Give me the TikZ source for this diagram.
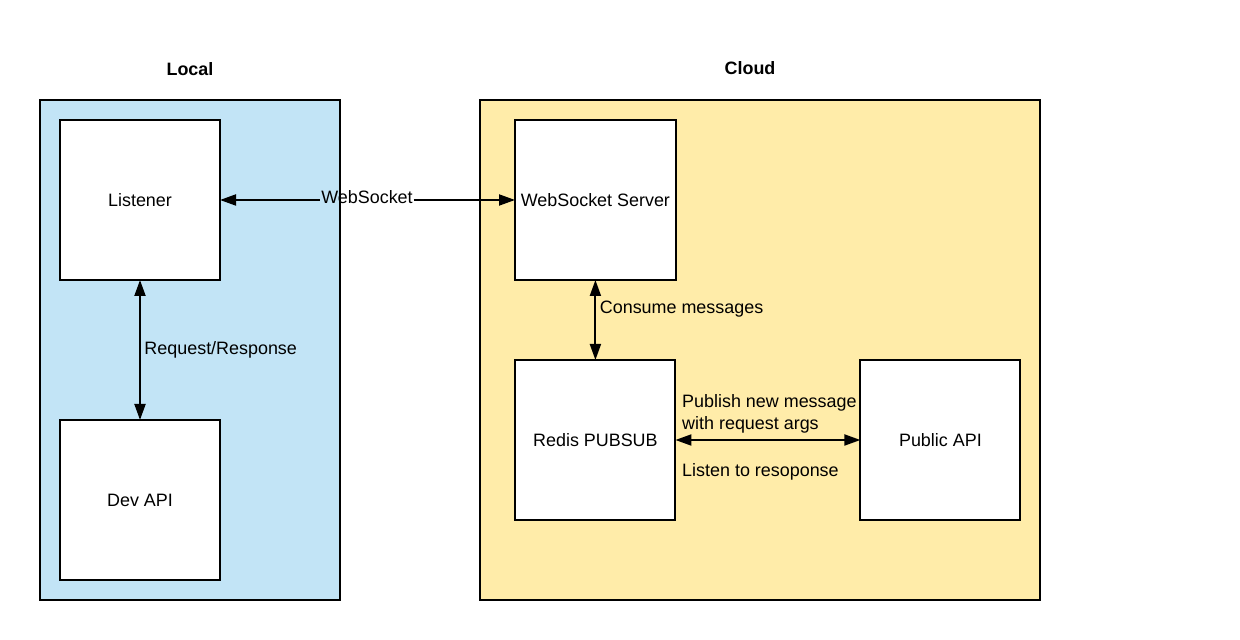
\documentclass[tikz,border=0pt]{standalone}
\usepackage{fontspec}
\setmainfont{Liberation Sans}
\usetikzlibrary{positioning,arrows.meta}
\definecolor{localblue}{RGB}{194,228,246}
\definecolor{cloudyellow}{RGB}{255,236,169}

\begin{document}
\begin{tikzpicture} [auto, node distance=2.8cm, line width=1.1pt,
                    >={Triangle[length=0.32cm,width=0.22cm]},
                    every node/.style={font=\fontsize{10.2}{12.5}\selectfont},
                    otsikko/.style={font=\fontsize{10.2}{12.5}\selectfont\bfseries},
                    solmu/.style={rectangle,draw,fill=white,minimum size=3.2cm,outer sep=0pt}]

\useasboundingbox (0,0) rectangle (24.8,-12.8);

% areas
\draw[fill=localblue] (0.8,-2) rectangle (6.8,-12);
\draw[fill=cloudyellow] (9.6,-2) rectangle (20.8,-12);
\node[otsikko] (l) at (3.8,-1.38) {Local};
\node[otsikko] (c) at (15,-1.36) {Cloud};

\node[solmu] (1) at (2.8,-4) {Listener};
\node[solmu] (2) [below=of 1] {Dev API};
\node[solmu] (3) [right=5.9cm of 1] {WebSocket Server};
\node[solmu] (4) [below=1.6cm of 3] {Redis PUBSUB};
\node[solmu] (5) [right=3.7cm of 4] {Public API};

\node[inner sep=0pt] (6) at (7.34,-3.94) {WebSocket};
\draw[<-] (1) -- (1 -| 6.west);
\draw[->] (1 -| 6.east) -- (3);

 \path[<->, every node/.style={font=\fontsize{10.2}{12.5}\selectfont}]
    (1) edge node[midway, right, inner sep=2pt] {Request/Response} (2)
    (3) edge node[pos=0.36, right, inner sep=2pt] {Consume messages} (4)
    (4) edge node[pos=0, anchor=south west, align=left] {Publish new message\\with request args}
             node[pos=0, anchor=north west, yshift=-0.33cm] {Listen to resoponse} (5);
\end{tikzpicture}
\end{document}
